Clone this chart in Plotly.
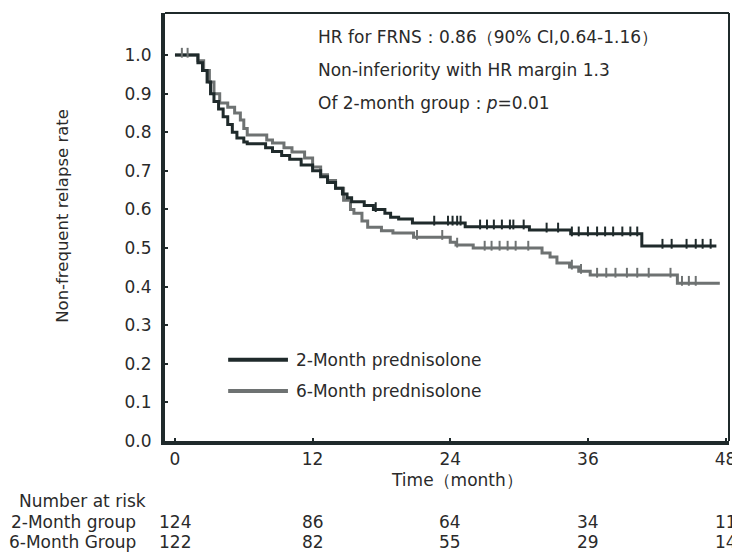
import plotly.graph_objects as go
import numpy as np

# ---- data ----
t_2m = [0, 2.0, 2.4, 2.8, 3.1, 3.4, 3.8, 4.2, 4.6, 5.0, 5.4, 6.0, 6.3, 7.9, 8.5, 9.3, 10.0, 11.0, 12.0,
        12.7, 13.3, 14.0, 14.6, 15.0, 15.4, 16.5, 17.3, 18.3, 18.8, 19.5, 20.7, 25.3, 30.9, 34.5, 40.7, 47.2]
s_2m = [1.0, 0.98, 0.96, 0.93, 0.90, 0.88, 0.86, 0.84, 0.82, 0.80, 0.785, 0.775, 0.77, 0.76, 0.75, 0.74, 0.73, 0.715, 0.70,
        0.685, 0.67, 0.655, 0.64, 0.63, 0.62, 0.61, 0.60, 0.59, 0.58, 0.575, 0.565, 0.555, 0.547, 0.537, 0.505, 0.505]

t_6m = [0, 2.0, 2.5, 3.0, 3.4, 3.9, 4.6, 5.2, 5.7, 6.0, 6.3, 8.0, 8.5, 9.5, 10.2, 11.3, 12.0, 12.7, 13.3, 14.0,
        14.7, 15.3, 15.6, 16.3, 16.8, 18.0, 19.0, 20.8, 24.0, 24.5, 26.0, 32.0, 32.7, 33.3, 34.4, 35.2, 36.2, 43.8, 47.5]
s_6m = [1.0, 0.985, 0.96, 0.93, 0.90, 0.876, 0.865, 0.85, 0.832, 0.81, 0.793, 0.78, 0.772, 0.76, 0.749, 0.733, 0.71, 0.69, 0.675, 0.655,
        0.624, 0.60, 0.59, 0.57, 0.554, 0.545, 0.539, 0.528, 0.515, 0.508, 0.50, 0.487, 0.477, 0.461, 0.451, 0.44, 0.43, 0.409, 0.409]

cens_2m = [17.5, 22.6, 23.8, 24.2, 24.6, 24.9, 26.6, 27.2, 27.8, 28.5, 29.2, 29.5, 30.4, 32.4, 33.4, 34.6, 35.2, 36.0,
           36.8, 37.5, 38.2, 39.0, 39.7, 40.3, 42.5, 43.3, 44.6, 45.4, 46.0, 46.7]
cens_6m = [0.6, 1.1, 21.1, 23.3, 24.6, 27.0, 27.6, 28.3, 29.0, 29.7, 30.8, 34.6, 35.4, 36.8, 37.6, 38.4, 39.4, 40.3, 41.3,
           43.2, 44.2, 44.8, 45.4]

x_ticks = [0, 12, 24, 36, 48]
risk_2m = [124, 86, 64, 34, 11]
risk_6m = [122, 82, 55, 29, 14]
group_labels = ["2-Month group", "6-Month Group"]
series_names = ["2-Month prednisolone", "6-Month prednisolone"]

DARK = "#1f2a2b"
GRAY = "#6e7272"
TXT = "#2a2a2a"
FONT = "DejaVu Sans, Liberation Sans, Arial, sans-serif"
FS = 17


def step_val(ts, ss, t):
    i = np.searchsorted(ts, t, side="right") - 1
    return ss[max(i, 0)]


fig = go.Figure()
fig.add_trace(go.Scatter(x=t_6m, y=s_6m, mode="lines", line=dict(color=GRAY, width=3, shape="hv"),
                         name=series_names[1], showlegend=False))
fig.add_trace(go.Scatter(x=t_2m, y=s_2m, mode="lines", line=dict(color=DARK, width=3, shape="hv"),
                         name=series_names[0], showlegend=False))
fig.add_trace(go.Scatter(x=cens_6m, y=[step_val(t_6m, s_6m, c) + 0.006 for c in cens_6m], mode="markers",
                         marker=dict(symbol="line-ns", size=7, line=dict(color=GRAY, width=2)), showlegend=False))
fig.add_trace(go.Scatter(x=cens_2m, y=[step_val(t_2m, s_2m, c) + 0.006 for c in cens_2m], mode="markers",
                         marker=dict(symbol="line-ns", size=7, line=dict(color=DARK, width=2)), showlegend=False))

# frame: top & right thin lines
fig.add_shape(type="line", xref="paper", yref="paper", x0=0, x1=1, y0=1, y1=1, line=dict(color=DARK, width=2))
fig.add_shape(type="line", xref="paper", yref="paper", x0=1, x1=1, y0=0, y1=1, line=dict(color=DARK, width=2))

# legend (drawn manually to get long key lines)
leg_y = [0.19, 0.117]
for name, col, ly in zip(series_names, [DARK, GRAY], leg_y):
    fig.add_shape(type="line", xref="paper", yref="paper", x0=0.112, x1=0.218, y0=ly, y1=ly,
                  line=dict(color=col, width=4))
    fig.add_annotation(xref="paper", yref="paper", x=0.228, y=ly, text=name, showarrow=False,
                       xanchor="left", yanchor="middle", font=dict(size=FS, color=TXT, family=FONT))

# statistics text
stats = ["HR for FRNS：0.86（90% CI,0.64-1.16）",
         "Non-inferiority with HR margin 1.3",
         "Of 2-month group：<i>p</i>=0.01"]
for i, s in enumerate(stats):
    fig.add_annotation(xref="paper", yref="paper", x=0.267, y=0.943 - i * 0.077, text=s, showarrow=False,
                       xanchor="left", yanchor="middle", font=dict(size=FS, color=TXT, family=FONT))

# axis titles
fig.add_annotation(xref="paper", yref="paper", x=-0.181, y=0.526, text="Non-frequent relapse rate",
                   textangle=-90, showarrow=False, xanchor="center", yanchor="middle",
                   font=dict(size=16.5, color=TXT, family=FONT))
fig.add_annotation(xref="paper", yref="paper", x=0.518, y=-0.092, text="Time（month）",
                   showarrow=False, xanchor="center", yanchor="middle",
                   font=dict(size=FS, color=TXT, family=FONT))

# number at risk table
fig.add_annotation(xref="paper", yref="paper", x=-0.262, y=-0.140, text="Number at risk", showarrow=False,
                   xanchor="left", yanchor="middle", font=dict(size=FS, color=TXT, family=FONT))
for row, (lab, vals) in enumerate(zip(group_labels, [risk_2m, risk_6m])):
    yy = -0.19 - row * 0.047
    fig.add_annotation(xref="paper", yref="paper", x=-0.047, y=yy, text=lab, showarrow=False,
                       xanchor="right", yanchor="middle", font=dict(size=FS, color=TXT, family=FONT))
    for xt, v in zip(x_ticks, vals):
        fig.add_annotation(xref="x", yref="paper", x=xt, y=yy, text=str(v), showarrow=False,
                           xanchor="center", yanchor="middle", font=dict(size=FS, color=TXT, family=FONT))

fig.update_layout(
    width=732, height=552,
    margin=dict(l=165, r=3, t=13, b=111),
    paper_bgcolor="white", plot_bgcolor="white",
    font=dict(family=FONT, color=TXT, size=FS),
    showlegend=False,
)
fig.update_xaxes(range=[-0.87, 48.3], tickvals=x_ticks, ticks="inside", ticklen=3, tickcolor=DARK, tickwidth=2,
                 showline=True, linecolor=DARK, linewidth=4, showgrid=False, zeroline=False, automargin=False,
                 tickfont=dict(size=FS, color=TXT), ticklabelstandoff=0, ticklabeloverflow="allow")
fig.update_yaxes(range=[0, 1.109], tickvals=[i / 10 for i in range(11)],
                 ticktext=[f"{i / 10:.1f}" for i in range(11)],
                 ticks="inside", ticklen=3, tickcolor=DARK, tickwidth=2,
                 showline=True, linecolor=DARK, linewidth=4, showgrid=False, zeroline=False, automargin=False,
                 tickfont=dict(size=FS, color=TXT), ticklabelstandoff=6)

fig.write_html("out.html", config={"displayModeBar": False},
               post_script="document.body.style.margin='0';document.body.style.overflow='hidden';")
